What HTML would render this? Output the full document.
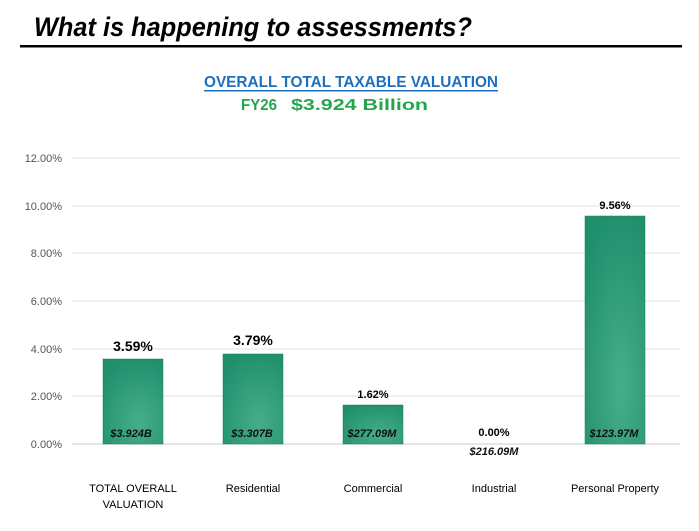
<!DOCTYPE html>
<html><head><meta charset="utf-8"><style>
body{margin:0;width:699px;height:526px;background:#fff;overflow:hidden;font-family:"Liberation Sans",sans-serif}
</style></head><body>
<svg width="699" height="526" xmlns="http://www.w3.org/2000/svg" font-family="Liberation Sans, sans-serif">
<defs>
<radialGradient id="g" cx="0.6" cy="0.75" r="0.8">
<stop offset="0" stop-color="#46ad8a"/><stop offset="1" stop-color="#1f8f6c"/>
</radialGradient>
</defs>
<text x="34" y="36" font-size="27" font-weight="bold" font-style="italic" textLength="438" lengthAdjust="spacingAndGlyphs">What is happening to assessments?</text>
<rect x="20" y="45" width="662" height="2.5" fill="#000"/>
<text x="351" y="87" font-size="16" font-weight="bold" fill="#1f6fc0" text-anchor="middle" textLength="294" lengthAdjust="spacingAndGlyphs">OVERALL TOTAL TAXABLE VALUATION</text>
<rect x="204" y="90" width="294" height="1.5" fill="#1f6fc0"/>
<text x="241" y="110" font-size="16" font-weight="bold" fill="#22a84a" textLength="36" lengthAdjust="spacingAndGlyphs">FY26</text>
<text x="291" y="110" font-size="16" font-weight="bold" fill="#22a84a" textLength="137" lengthAdjust="spacingAndGlyphs">$3.924 Billion</text>
<g stroke="#e0e0e0" stroke-width="1">
<line x1="72" x2="680" y1="158" y2="158"/><line x1="72" x2="680" y1="206" y2="206"/>
<line x1="72" x2="680" y1="253" y2="253"/><line x1="72" x2="680" y1="301" y2="301"/>
<line x1="72" x2="680" y1="349" y2="349"/><line x1="72" x2="680" y1="396" y2="396"/>
<line x1="72" x2="680" y1="444" y2="444" stroke="#ccc"/>
</g>
<g font-size="11" fill="#555" text-anchor="end">
<text x="62" y="162">12.00%</text><text x="62" y="210">10.00%</text><text x="62" y="257">8.00%</text>
<text x="62" y="305">6.00%</text><text x="62" y="353">4.00%</text><text x="62" y="400">2.00%</text><text x="62" y="448">0.00%</text>
</g>
<g fill="url(#g)" stroke="#1a7a5c" stroke-width="0.5">
<rect x="103" y="359" width="60" height="85"/>
<rect x="223" y="354" width="60" height="90"/>
<rect x="343" y="405" width="60" height="39"/>
<rect x="585" y="216" width="60" height="228"/>
</g>
<g font-weight="bold" text-anchor="middle" fill="#000">
<text x="133" y="351" font-size="14">3.59%</text>
<text x="253" y="345" font-size="14">3.79%</text>
<text x="373" y="398" font-size="11">1.62%</text>
<text x="494" y="436" font-size="11">0.00%</text>
<text x="615" y="209" font-size="11">9.56%</text>
</g>
<g font-weight="bold" font-style="italic" text-anchor="middle" fill="#111" font-size="11">
<text x="131" y="437">$3.924B</text>
<text x="252" y="437">$3.307B</text>
<text x="372" y="437">$277.09M</text>
<text x="494" y="455">$216.09M</text>
<text x="614" y="437">$123.97M</text>
</g>
<g font-size="11" fill="#000" text-anchor="middle">
<text x="133" y="492">TOTAL OVERALL</text><text x="133" y="508">VALUATION</text>
<text x="253" y="492">Residential</text>
<text x="373" y="492">Commercial</text>
<text x="494" y="492">Industrial</text>
<text x="615" y="492">Personal Property</text>
</g>
</svg>
</body></html>
